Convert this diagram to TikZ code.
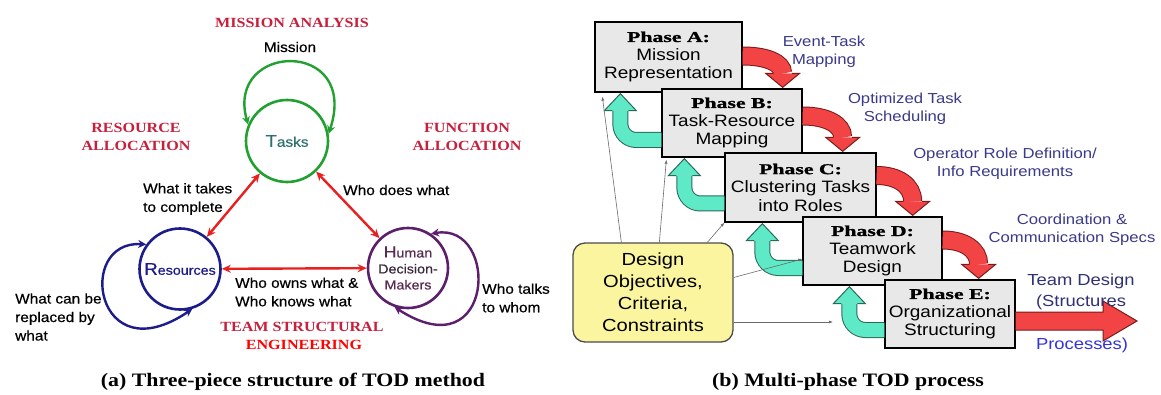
\documentclass[tikz,border=0pt]{standalone}
\usepackage{fontspec}
\setmainfont{Liberation Serif}
\newfontfamily\capfnt[FakeStretch=1.15]{Liberation Serif}
\newfontfamily\hdfnt[FakeStretch=1.15]{Liberation Serif}
\newfontfamily\lblfnt[FakeStretch=1.1,FakeBold=0.5]{Liberation Sans}
\newfontfamily\boxfnt[FakeStretch=1.15]{Liberation Sans}
\newfontfamily\phfnt[FakeStretch=1.45,FakeBold=1.2]{Liberation Serif Bold}
\usetikzlibrary{arrows.meta,calc}

\definecolor{taskgreen}{HTML}{22A030}
\definecolor{taskteal}{HTML}{2F7070}
\definecolor{resblue}{HTML}{1C1C8A}
\definecolor{humpurple}{HTML}{5B1F6B}
\definecolor{humtext}{HTML}{5A2A50}
\definecolor{humdark}{HTML}{3A2A3A}
\definecolor{linkred}{HTML}{E82020}
\definecolor{hdred}{HTML}{C8203C}
\definecolor{engred}{HTML}{FF0000}
\definecolor{aqua}{HTML}{5EEAC6}
\definecolor{aquaedge}{HTML}{2A6A5A}
\definecolor{redfill}{HTML}{F24444}
\definecolor{rededge}{HTML}{7A1A1A}
\definecolor{boxgray}{HTML}{E8E8E8}
\definecolor{yellowfill}{HTML}{FAF59E}
\definecolor{lblblue}{HTML}{3A3A8A}
\definecolor{procblue}{HTML}{3434D8}
\definecolor{thin}{HTML}{6A6A6A}

\tikzset{
  hub/.style={circle, inner sep=0pt, line width=2.6pt, align=center,
    font=\lblfnt\fontsize{13}{17}\selectfont},
  selfloop/.style={line width=2.4pt, {Stealth[length=8pt,width=8pt]}-{Stealth[length=8pt,width=8pt]}},
  link/.style={draw=linkred, line width=2.4pt, {Stealth[length=9pt,width=8pt]}-{Stealth[length=9pt,width=8pt]}},
  lbl/.style={font=\lblfnt\fontsize{14}{18.5}\selectfont, inner sep=0pt, align=left},
  hdr/.style={font=\hdfnt\bfseries\fontsize{14}{18.5}\selectfont, text=hdred, inner sep=0pt, align=center},
  bluelbl/.style={font=\boxfnt\fontsize{14.5}{18.5}\selectfont, text=lblblue, inner sep=0pt, align=center},
  phasebox/.style={draw=black, line width=1.3pt, fill=boxgray, align=center, inner sep=0pt,
    font=\boxfnt\fontsize{16.5}{18.5}\selectfont},
  gband/.style={draw=aquaedge, line width=1pt, double=aqua, double distance=14pt, rounded corners=16pt},
  gline/.style={draw=aquaedge, line width=1pt, line join=miter},
  rband/.style={draw=rededge, line width=1pt, double=redfill, double distance=17pt},
  rline/.style={draw=rededge, line width=1pt, line join=miter},
  feed/.style={draw=thin, line width=0.6pt, -{Latex[length=4pt,width=3pt]}},
  caption/.style={font=\capfnt\bfseries\fontsize{19}{22}\selectfont, inner sep=0pt}
}

% block arrow running back from a lower phase to the one above it
% #1 lower box, #2 upper box, #3 tip offset from #2's south-west corner, #4 band offset below #1's centre
\newcommand\backflow[4]{%
  \coordinate (bfS) at ($(#1.west)+(0,#4)$);
  \coordinate (bfT) at ($(#2.south west)+(#3,1)$);
  \coordinate (bfB) at ($(bfT)+(0,17)$);
  \draw[gband] (bfS) -| (bfB);
  \fill[aqua] ($(bfB)+(-16,0)$) -- (bfT) -- ($(bfB)+(16,0)$) -- cycle;
  \draw[gline] ($(bfB)+(-8,0)$) -- ($(bfB)+(-16,0)$) -- (bfT) -- ($(bfB)+(16,0)$) -- ($(bfB)+(8,0)$);
}
% curved block arrow handing a phase's output to the next phase
% #1 upper box, #2 lower box, #3 tip offset left of #2's north-east corner, #4 band offset from #1's centre
\newcommand\forwardflow[4]{%
  \coordinate (ffS) at ($(#1.east)+(0,#4)$);
  \coordinate (ffT) at ($(#2.north east)+(-#3,-1)$);
  \coordinate (ffB) at ($(ffT)+(0,-14)$);
  \coordinate (ffC) at (ffS -| ffB);
  \draw[rband] (ffS) .. controls ($(ffS)!0.6!(ffC)$) and ($(ffB)!0.6!(ffC)$) .. (ffB);
  \fill[redfill] ($(ffB)+(-17,0)$) -- (ffT) -- ($(ffB)+(17,0)$) -- cycle;
  \draw[rline] ($(ffB)+(-9.5,0)$) -- ($(ffB)+(-17,0)$) -- (ffT) -- ($(ffB)+(17,0)$) -- ($(ffB)+(9.5,0)$);
}

\begin{document}
\begin{tikzpicture}[x=1pt,y=-1pt]
\useasboundingbox[fill=white] (0,0) rectangle (1161,395);

% ===================== (a) three-piece structure =====================
\node[hub, draw=taskgreen, minimum size=82pt, text=taskteal] (tasks) at (287,141)
  {{\fontsize{17}{17}\selectfont T}{\fontsize{14}{17}\selectfont asks}};
\node[hub, draw=resblue, minimum size=81pt, text=resblue] (res) at (180,269)
  {{\fontsize{17}{17}\selectfont R}esources};
\node[hub, draw=humpurple, minimum size=80pt] (hum) at (408,268)
  {\textcolor{humtext}{{\fontsize{16}{17}\selectfont H}uman}\\[-1pt]
   \textcolor{humdark}{Decision-}\\[-1pt]
   \textcolor{humtext}{Makers}};

% self loops
\draw[selfloop, taskgreen] (tasks.10) .. controls (360,38) and (225,42) .. (tasks.157);
\draw[selfloop, resblue] (res.144) .. controls (75,240) and (95,375) .. (res.-73);
\draw[selfloop, humpurple] (hum.56) .. controls (500,222) and (495,372) .. (hum.-109);

% relations between the three pieces
\draw[link] (res) -- (tasks);
\draw[link] (tasks) -- (hum);
\draw[link] (res) -- (hum);

% headings
\node[hdr] (hMission) at (292,23) {MISSION ANALYSIS};
\node[hdr] (hRes) at (136,137) {RESOURCE\\ALLOCATION};
\node[hdr] (hFun) at (467,137) {FUNCTION\\ALLOCATION};
\node[hdr] (hTeam) at (302,327) {TEAM STRUCTURAL};
\node[hdr, text=engred] (hEng) at (304,345) {ENGINEERING};

% relation labels
\node[lbl] (lMission) at (290,47) {Mission};
\node[lbl, anchor=west] (lTakes) at (143,199) {What it takes\\to complete};
\node[lbl, anchor=west] (lDoes) at (343,190) {Who does what};
\node[lbl, anchor=west] (lOwns) at (235,292) {Who owns what \&\\Who knows what};
\node[lbl, anchor=west] (lTalks) at (482,298) {Who talks\\to whom};
\node[lbl, anchor=west] (lRepl) at (15,317) {What can be\\replaced by\\what};

\node[caption] (capA) at (293,382) {(a) Three-piece structure of TOD method};

% ===================== (b) multi-phase process =====================
\node[phasebox, minimum width=147pt, minimum height=70pt] (pA) at (668.5,57)
  {{\phfnt\fontsize{15}{18.5}\selectfont Phase A:}\\Mission\\Representation};
\node[phasebox, minimum width=140pt, minimum height=68pt] (pB) at (732,123)
  {{\phfnt\fontsize{15}{18.5}\selectfont Phase B:}\\Task-Resource\\Mapping};
\node[phasebox, minimum width=151pt, minimum height=69pt] (pC) at (800.5,187.5)
  {{\phfnt\fontsize{15}{18.5}\selectfont Phase C:}\\Clustering Tasks\\into Roles};
\node[phasebox, minimum width=139pt, minimum height=68pt] (pD) at (872.5,251)
  {{\phfnt\fontsize{15}{18.5}\selectfont Phase D:}\\Teamwork\\Design};
\node[phasebox, minimum width=130pt, minimum height=68pt] (pE) at (950,314)
  {{\phfnt\fontsize{15}{18.5}\selectfont Phase E:}\\Organizational\\Structuring};

% feedback to the previous phase
\backflow{pB}{pA}{26}{17}
\backflow{pC}{pB}{23}{16}
\backflow{pD}{pC}{38}{17}
\backflow{pE}{pD}{47}{16}

% hand-over to the next phase
\forwardflow{pA}{pB}{20}{-1}
\forwardflow{pB}{pC}{34}{-7}
\forwardflow{pC}{pD}{30}{-12}
\forwardflow{pD}{pE}{37}{-11}

% final output
\coordinate (o) at ($(pE.east)+(0,7)$);
\coordinate (out) at (1137,321);
\fill[redfill] ($(o)+(0,-9)$) -- ($(out)+(-34,-9)$) -- ($(out)+(-34,-20)$) -- (out)
  -- ($(out)+(-34,20)$) -- ($(out)+(-34,9)$) -- ($(o)+(0,9)$) -- cycle;
\draw[rline] ($(o)+(0,-9)$) -- ($(out)+(-34,-9)$) -- ($(out)+(-34,-20)$) -- (out)
  -- ($(out)+(-34,20)$) -- ($(out)+(-34,9)$) -- ($(o)+(0,9)$);

% design objectives feeding every phase
\node[draw=black!70, line width=1.3pt, fill=yellowfill, rounded corners=12pt,
      minimum width=160pt, minimum height=99pt, inner sep=0pt, align=center,
      font=\boxfnt\fontsize{17.5}{22}\selectfont] (des) at (653,292.5)
  {Design\\Objectives,\\Criteria,\\Constraints};
\coordinate (eEnd) at (833,322);
\draw[feed] ($(des.north west)+(49,0)$) -- ($(pA.south west)+(8,4)$);
\draw[feed] ($(des.north west)+(87,0)$) -- ($(pB.south west)+(5,2)$);
\draw[feed] ($(des.north west)+(135,0)$) -- (pC.south west);
\draw[feed] ($(des.east)+(0,-15)$) -- ($(pD.west)+(0,8)$);
\draw[feed] ($(des.east)+(0,29.5)$) -- (eEnd);

% phase outputs
\node[bluelbl] (oA) at (824,52) {Event-Task\\Mapping};
\node[bluelbl] (oB) at (905,109) {Optimized Task\\Scheduling};
\node[bluelbl] (oC) at (1005,164) {Operator Role Definition/\\Info Requirements};
\node[bluelbl] (oD) at (1072,230) {Coordination \&\\Communication Specs};
\node[bluelbl, font=\boxfnt\fontsize{16}{21}\selectfont, text=lblblue!85!black] (oE) at (1081,292) {Team Design\\(Structures};
\node[bluelbl, font=\boxfnt\fontsize{16}{21}\selectfont, text=procblue] (oE2) at (1082,345) {Processes)};

\node[caption] (capB) at (848,382) {(b) Multi-phase TOD process};
\end{tikzpicture}
\end{document}
